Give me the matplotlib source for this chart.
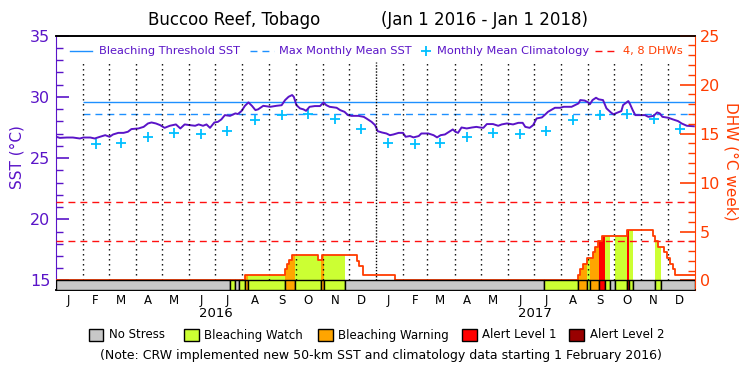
import numpy as np
import pandas as pd
import matplotlib
matplotlib.use("Agg")
import matplotlib.pyplot as plt
import matplotlib.dates as mdates
from matplotlib.lines import Line2D
from matplotlib.patches import Rectangle
from matplotlib.ticker import MultipleLocator

plt.rcParams["font.family"] = "DejaVu Sans"

# ── data ──────────────────────────────────────────────────────────────────────

START, END = "2016-01-01", "2018-01-01"

sst_dates = [
    "2016-01-01", "2016-01-05", "2016-01-13", "2016-01-20", "2016-01-28",
    "2016-02-01", "2016-02-09", "2016-02-14", "2016-02-20", "2016-02-26",
    "2016-03-02", "2016-03-06", "2016-03-12", "2016-03-18", "2016-03-23",
    "2016-03-27", "2016-04-04", "2016-04-10", "2016-04-15", "2016-04-19",
    "2016-04-24", "2016-04-29", "2016-05-04", "2016-05-10", "2016-05-17",
    "2016-05-22", "2016-05-27", "2016-06-02", "2016-06-08", "2016-06-12",
    "2016-06-17", "2016-06-21", "2016-06-25", "2016-06-30", "2016-07-04",
    "2016-07-08", "2016-07-12", "2016-07-18", "2016-07-24", "2016-07-27",
    "2016-07-31", "2016-08-04", "2016-08-08", "2016-08-12", "2016-08-16",
    "2016-08-19", "2016-08-25", "2016-09-02", "2016-09-09", "2016-09-15",
    "2016-09-19", "2016-09-23", "2016-09-27", "2016-09-29", "2016-10-02",
    "2016-10-06", "2016-10-10", "2016-10-13", "2016-10-17", "2016-10-23",
    "2016-10-29", "2016-11-02", "2016-11-05", "2016-11-09", "2016-11-17",
    "2016-11-21", "2016-11-26", "2016-11-30", "2016-12-04", "2016-12-12",
    "2016-12-18", "2016-12-21", "2016-12-27", "2016-12-31",
    "2017-01-03", "2017-01-08", "2017-01-13", "2017-01-17", "2017-01-21",
    "2017-01-27", "2017-02-01", "2017-02-04", "2017-02-09", "2017-02-13",
    "2017-02-19", "2017-02-22", "2017-03-02", "2017-03-08", "2017-03-12",
    "2017-03-16", "2017-03-21", "2017-03-27", "2017-03-30", "2017-04-02",
    "2017-04-05", "2017-04-09", "2017-04-15", "2017-04-21", "2017-04-26",
    "2017-04-30", "2017-05-04", "2017-05-08", "2017-05-15", "2017-05-21",
    "2017-05-25", "2017-05-31", "2017-06-07", "2017-06-13", "2017-06-18",
    "2017-06-21", "2017-06-26", "2017-06-30", "2017-07-04", "2017-07-10",
    "2017-07-14", "2017-07-17", "2017-07-25", "2017-07-31", "2017-08-04",
    "2017-08-13", "2017-08-17", "2017-08-21", "2017-08-23", "2017-08-28",
    "2017-09-01", "2017-09-03", "2017-09-06", "2017-09-10", "2017-09-13",
    "2017-09-18", "2017-09-22", "2017-09-27", "2017-09-30", "2017-10-04",
    "2017-10-09", "2017-10-11", "2017-10-17", "2017-10-19", "2017-10-22",
    "2017-10-25", "2017-10-30", "2017-11-05", "2017-11-09", "2017-11-15",
    "2017-11-19", "2017-11-22", "2017-11-25", "2017-12-02", "2017-12-07",
    "2017-12-13", "2017-12-17", "2017-12-23", "2017-12-31",
]
sst_vals = [
    26.74, 26.65, 26.68, 26.68, 26.60,
    26.68, 26.68, 26.60, 26.74, 26.87,
    26.74, 26.93, 27.06, 27.06, 27.15,
    27.37, 27.42, 27.55, 27.83, 27.91,
    27.83, 27.69, 27.47, 27.64, 27.75,
    27.42, 27.75, 27.69, 27.64, 27.75,
    27.64, 27.75, 27.47, 27.91, 27.96,
    28.16, 28.51, 28.45, 28.65, 28.60,
    28.84, 29.27, 29.55, 29.27, 28.92,
    28.98, 29.27, 29.19, 29.27, 29.32,
    29.74, 30.01, 30.15, 30.00, 29.33,
    29.06, 28.98, 28.86, 29.19, 29.25,
    29.25, 29.55, 29.33, 29.19, 29.11,
    28.92, 28.78, 28.51, 28.45, 28.45,
    28.37, 28.24, 27.96, 27.69,
    27.20, 27.09, 27.01, 26.87, 26.93,
    27.06, 27.06, 26.74, 26.80, 26.69,
    26.80, 27.01, 27.01, 26.87, 26.69,
    26.87, 26.93, 27.20, 27.34, 27.15,
    27.06, 27.50, 27.42, 27.50, 27.55,
    27.50, 27.47, 27.78, 27.78, 27.64,
    27.75, 27.83, 27.75, 27.88, 27.88,
    27.55, 27.47, 27.69, 28.24, 28.32,
    28.57, 28.78, 29.11, 29.11, 29.19,
    29.19, 29.33, 29.47, 29.74, 29.70,
    29.55, 29.40, 29.74, 29.93, 29.80,
    29.74, 29.06, 28.73, 28.57, 28.70,
    28.84, 29.33, 29.66, 29.40, 28.92,
    28.51, 28.51, 28.51, 28.37, 28.45,
    28.73, 28.65, 28.37, 28.29, 28.16,
    28.02, 27.83, 27.64, 27.60,
]

# monthly mean climatology, Jan..Dec
clim_month_vals = [26.24, 26.16, 26.24, 26.69, 27.06, 26.98,
                   27.18, 28.08, 28.50, 28.57, 28.18, 27.34]
CLIM_START = "2016-02-01"   # new 50-km climatology starts here

MMM = 28.6      # max monthly mean
THRESH = 29.6   # bleaching threshold (MMM + 1)

# degree heating weeks (step changes)
dhw_dates = [
    "2016-01-01", "2016-08-04", "2016-09-19", "2016-09-21", "2016-09-24",
    "2016-09-27", "2016-10-27", "2016-10-31", "2016-12-10", "2016-12-13",
    "2016-12-17", "2017-01-23", "2017-08-20", "2017-08-23", "2017-08-26",
    "2017-08-31", "2017-09-06", "2017-09-09", "2017-09-12", "2017-09-17",
    "2017-10-15", "2017-11-14", "2017-11-17", "2017-11-20", "2017-11-27",
    "2017-11-30", "2017-12-04", "2017-12-07", "2017-12-09",
]
dhw_vals = [
    0.0, 0.57, 1.14, 1.71, 2.14,
    2.57, 2.14, 2.57, 2.00, 1.43,
    0.57, 0.0, 0.57, 1.14, 1.71,
    2.29, 2.86, 3.43, 4.00, 4.57,
    5.14, 4.57, 4.00, 3.43, 2.86,
    2.29, 1.71, 1.14, 0.57,
]

# stress level: 0 none, 1 watch, 2 warning, 3 alert 1, 4 alert 2
status_dates = [
    "2016-01-01", "2016-07-18", "2016-07-24", "2016-07-28", "2016-08-04",
    "2016-08-07", "2016-09-19", "2016-09-30", "2016-10-30", "2016-11-02",
    "2016-11-27", "2017-07-12", "2017-08-20", "2017-08-31", "2017-09-03",
    "2017-09-13", "2017-09-20", "2017-09-26", "2017-10-02", "2017-10-15",
    "2017-10-18", "2017-10-22", "2017-11-16", "2017-11-23",
]
status_level = [
    0, 1, 0, 1, 2,
    1, 2, 1, 2, 1,
    0, 1, 2, 1, 2,
    3, 1, 0, 1, 3,
    1, 0, 1, 0,
]

STRESS_LABELS = ["No Stress", "Bleaching Watch", "Bleaching Warning",
                 "Alert Level 1", "Alert Level 2"]
STRESS_COLORS = ["#c8c8c8", "#ccff33", "#ffa500", "#ff0000", "#990000"]
MONTH_LETTERS = list("JFMAMJJASOND")

PURPLE = "#5a14c8"
ORANGE = "#ff3c00"
BLUE = "#1e90ff"
CYAN = "#00bfff"
RED = "#ff1010"

# ── figure ────────────────────────────────────────────────────────────────────

W, H = 750, 375
def fx(x): return x / W
def fy(y): return 1 - y / H

fig = plt.figure(figsize=(7.5, 3.75), dpi=100)
ax = fig.add_axes([fx(56.3), fy(290), (694.7 - 56.3) / W, (290 - 35.7) / H])
ax2 = ax.twinx()

BAR = 0.78                # stress bar height in SST units
K = 1.25                  # DHW per degC of left axis
t0, t1 = pd.Timestamp(START), pd.Timestamp(END)

ax.set_xlim(t0, t1)
ax.set_ylim(15 - BAR, 35)
ax2.set_ylim(-BAR * K, 25)

# SST side
ax.plot(pd.to_datetime(sst_dates), sst_vals, color=PURPLE, lw=1.4, zorder=5)
ax.hlines(THRESH, pd.Timestamp(CLIM_START), t1, color=BLUE, lw=1.0)
ax.hlines(MMM, pd.Timestamp(CLIM_START), t1, color=BLUE, lw=1.0,
          linestyles=[(0, (5, 3.6))])

clim_x, clim_y = [], []
for yr in (2016, 2017):
    for m in range(12):
        d = pd.Timestamp(yr, m + 1, 15)
        if d < pd.Timestamp(CLIM_START):
            continue
        clim_x.append(d)
        clim_y.append(clim_month_vals[m])
ax.plot(clim_x, clim_y, "+", color=CYAN, ms=7, mew=1.3, ls="none")

# DHW side
days = pd.date_range(t0, t1, freq="D")
dhw_daily = pd.Series(dhw_vals, index=pd.to_datetime(dhw_dates)).reindex(days, method="ffill")

s_dates = list(pd.to_datetime(status_dates)) + [t1]
for i, lvl in enumerate(status_level):
    s, e = s_dates[i], s_dates[i + 1]
    if lvl > 0:
        m = (days >= s) & (days <= e)
        ax2.fill_between(days[m], 0, dhw_daily[m].values, step="post",
                         color=STRESS_COLORS[lvl], lw=0, zorder=1)
    ax2.bar(mdates.date2num(s), BAR * K, width=(e - s).days, bottom=-BAR * K,
            align="edge", color=STRESS_COLORS[lvl], edgecolor="black",
            lw=1.0, zorder=6)

# month dividers
for yr in (2016, 2017):
    for m in range(12):
        d = pd.Timestamp(yr, m + 1, 1)
        if d == t0:
            continue
        ls = (0, (1, 1.2)) if m == 0 else (0, (1, 2.6))
        ax2.vlines(d, 0, 22.3, colors="black", lw=1.0, linestyles=[ls], zorder=2)

ax2.axhline(4, color=RED, lw=1.0, ls=(0, (5, 3.6)), zorder=3)
ax2.axhline(8, color=RED, lw=1.0, ls=(0, (5, 3.6)), zorder=3)

step_x = list(pd.to_datetime(dhw_dates)) + [t1]
step_y = dhw_vals + [dhw_vals[-1]]
ax2.step(step_x, step_y, where="post", color=ORANGE, lw=1.3, zorder=4)

# axes styling
ax.set_yticks([15, 20, 25, 30, 35])
ax.yaxis.set_minor_locator(MultipleLocator(1))
ax.tick_params(axis="y", which="both", direction="in", colors=PURPLE,
               labelsize=11.5, pad=4.3)
ax.tick_params(axis="y", which="major", length=9.4, width=1.2)
ax.tick_params(axis="y", which="minor", length=5, width=1.0)

ax2.set_yticks([0, 5, 10, 15, 20, 25])
ax2.yaxis.set_minor_locator(MultipleLocator(1))
ax2.tick_params(axis="y", which="both", direction="in", colors=ORANGE,
                labelsize=11.5, pad=3.6)
ax2.tick_params(axis="y", which="major", length=10.8, width=1.2)
ax2.tick_params(axis="y", which="minor", length=5, width=1.0)

mid = [pd.Timestamp(yr, m + 1, 15) for yr in (2016, 2017) for m in range(12)]
ax.set_xticks(mid)
ax.set_xticklabels(MONTH_LETTERS * 2)
ax.tick_params(axis="x", length=0, pad=3, labelsize=8.5)

ax.spines["left"].set_color(PURPLE)
ax.spines["right"].set_visible(False)
ax2.spines["left"].set_visible(False)
ax2.spines["right"].set_color(ORANGE)
for a in (ax, ax2):
    for sp in ("top", "bottom"):
        a.spines[sp].set_color("black")
        a.spines[sp].set_linewidth(1.2)

for yr in (2016, 2017):
    ax.text(pd.Timestamp(yr, 7, 2), -0.094, str(yr), transform=ax.get_xaxis_transform(),
            ha="center", va="center", fontsize=9.5)

# titles & axis labels
fig.text(fx(233.7), fy(20), "Buccoo Reef, Tobago", ha="center", va="center", fontsize=12)
fig.text(fx(484.3), fy(20), "(Jan 1 2016 - Jan 1 2018)", ha="center", va="center", fontsize=12)
fig.text(fx(16.7), fy(157), "SST (°C)", rotation=90, ha="center", va="center",
         fontsize=11, color=PURPLE)
fig.text(fx(731), fy(161.5), "DHW (°C week)", rotation=270, ha="center", va="center",
         fontsize=11, color=ORANGE)

# top legend
ly = fy(51)
fig.add_artist(Line2D([fx(70), fx(92)], [ly, ly], color=BLUE, lw=1.0))
fig.text(fx(99), ly, "Bleaching Threshold SST", va="center", fontsize=8.2, color=PURPLE)
fig.add_artist(Line2D([fx(250), fx(274)], [ly, ly], color=BLUE, lw=1.0, ls=(0, (5, 3.6))))
fig.text(fx(279), ly, "Max Monthly Mean SST", va="center", fontsize=8.2, color=PURPLE)
fig.add_artist(Line2D([fx(426)], [ly], color=CYAN, marker="+", ms=7, mew=1.3, ls="none"))
fig.text(fx(437), ly, "Monthly Mean Climatology", va="center", fontsize=8.2, color=PURPLE)
fig.add_artist(Line2D([fx(595), fx(617)], [ly, ly], color=RED, lw=1.0, ls=(0, (5, 3.6))))
fig.text(fx(623), ly, "4, 8 DHWs", va="center", fontsize=8.2, color=ORANGE)

# bottom legend
box_x = [88.5, 184, 318, 462, 569]
for bx, lab, col in zip(box_x, STRESS_LABELS, STRESS_COLORS):
    fig.add_artist(Rectangle((fx(bx), fy(341)), 14.5 / W, 12 / H,
                             facecolor=col, edgecolor="black", lw=1.0))
    fig.text(fx(bx + 20.5), fy(335), lab, va="center", fontsize=8.5)

fig.text(fx(381), fy(356),
         "(Note: CRW implemented new 50-km SST and climatology data starting 1 February 2016)",
         ha="center", va="center", fontsize=9)

fig.savefig("out.png", dpi=100)
